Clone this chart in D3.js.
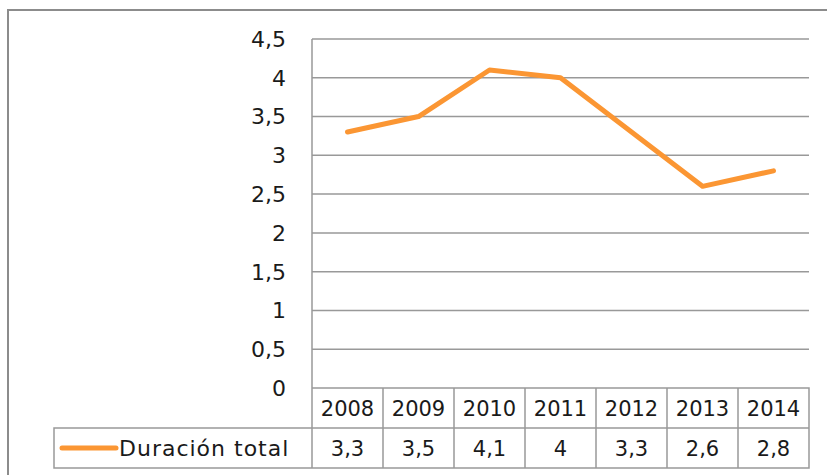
<!DOCTYPE html>
<meta charset="utf-8">
<title>Duración total</title>
<style>
  body { margin: 0; background: #fff; }
  text { font-family: "DejaVu Sans", "Noto Sans", sans-serif; fill: #1a1a1a; }
</style>
<body>
<script src="https://d3js.org/d3.v7.min.js"></script>
<script>

var width = 827,
    height = 475;

var years = ["2008", "2009", "2010", "2011", "2012", "2013", "2014"];
var duracion = [3.3, 3.5, 4.1, 4, 3.3, 2.6, 2.8];
var yTicks = [0, 0.5, 1, 1.5, 2, 2.5, 3, 3.5, 4, 4.5];
var seriesName = "Duración total";

var plot = {left: 312, right: 809, top: 39, bottom: 388},
    rowH = 40,
    tableLeft = 54;

var fmt = function(v) { return String(v).replace(".", ","); };

var x = d3.scaleBand()
    .domain(years)
    .range([plot.left, plot.right]);

var y = d3.scaleLinear()
    .domain([0, 4.5])
    .range([plot.bottom, plot.top]);

var svg = d3.select("body").append("svg")
    .attr("width", width)
    .attr("height", height);

// outer chart frame (cropped at right/bottom)
svg.append("path")
    .attr("d", "M8," + height + "V10H" + width)
    .attr("fill", "none")
    .attr("stroke", "#8c8c8c")
    .attr("stroke-width", 2);

// gridlines
svg.append("g").selectAll("line")
    .data(yTicks.slice(1))
  .enter().append("line")
    .attr("x1", plot.left).attr("x2", plot.right)
    .attr("y1", function(d) { return y(d); })
    .attr("y2", function(d) { return y(d); })
    .attr("stroke", "#999")
    .attr("stroke-width", 1.5);

// y axis line
svg.append("line")
    .attr("x1", plot.left).attr("x2", plot.left)
    .attr("y1", plot.top).attr("y2", plot.bottom)
    .attr("stroke", "#999")
    .attr("stroke-width", 1.5);

// y tick labels
svg.append("g").selectAll("text")
    .data(yTicks)
  .enter().append("text")
    .attr("x", 286)
    .attr("y", function(d) { return y(d); })
    .attr("dy", "0.36em")
    .attr("text-anchor", "end")
    .style("font-size", "22px")
    .text(fmt);

// data table
var table = svg.append("g")
    .attr("fill", "none")
    .attr("stroke", "#999")
    .attr("stroke-width", 1.5);

table.append("path")
    .attr("d", "M" + plot.left + "," + plot.bottom + "H" + plot.right +
               "V" + (plot.bottom + 2 * rowH) + "H" + tableLeft +
               "V" + (plot.bottom + rowH) + "H" + plot.right +
               "M" + plot.left + "," + plot.bottom + "V" + (plot.bottom + 2 * rowH));

table.selectAll("line")
    .data(years.slice(1))
  .enter().append("line")
    .attr("x1", function(d) { return x(d); })
    .attr("x2", function(d) { return x(d); })
    .attr("y1", plot.bottom)
    .attr("y2", plot.bottom + 2 * rowH);

svg.append("g").selectAll("text")
    .data(years)
  .enter().append("text")
    .attr("x", function(d) { return x(d) + x.bandwidth() / 2; })
    .attr("y", plot.bottom + rowH / 2)
    .attr("dy", "0.36em")
    .attr("text-anchor", "middle")
    .style("font-size", "21px")
    .text(function(d) { return d; });

svg.append("g").selectAll("text")
    .data(duracion)
  .enter().append("text")
    .attr("x", function(d, i) { return x(years[i]) + x.bandwidth() / 2; })
    .attr("y", plot.bottom + rowH * 1.5)
    .attr("dy", "0.36em")
    .attr("text-anchor", "middle")
    .style("font-size", "21px")
    .text(fmt);

// legend key
svg.append("line")
    .attr("x1", 62).attr("x2", 116)
    .attr("y1", plot.bottom + rowH * 1.5)
    .attr("y2", plot.bottom + rowH * 1.5)
    .attr("stroke", "#fb9633")
    .attr("stroke-width", 5)
    .attr("stroke-linecap", "round");

svg.append("text")
    .attr("x", 119)
    .attr("y", plot.bottom + rowH * 1.5)
    .attr("dy", "0.36em")
    .style("font-size", "22px")
    .style("letter-spacing", "1px")
    .text(seriesName);

// series line
var line = d3.line()
    .x(function(d, i) { return x(years[i]) + x.bandwidth() / 2; })
    .y(function(d) { return y(d); });

svg.append("path")
    .datum(duracion)
    .attr("d", line)
    .attr("fill", "none")
    .attr("stroke", "#fb9633")
    .attr("stroke-width", 5)
    .attr("stroke-linecap", "round")
    .attr("stroke-linejoin", "round");

</script>
